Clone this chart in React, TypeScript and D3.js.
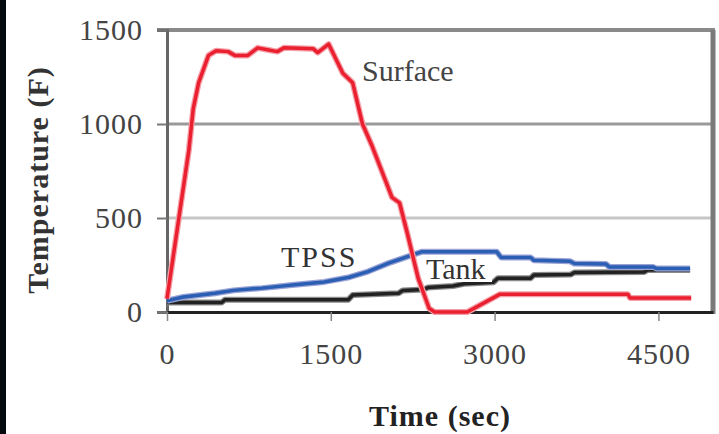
import React, { useEffect, useRef } from 'react';
import { select, scaleLinear, line, axisLeft, axisBottom } from 'd3';

// [time (sec), temperature (F)]
const surface: [number, number][] = [
  [0, 70], [200, 860], [240, 1080], [290, 1220], [380, 1365], [450, 1390],
  [560, 1385], [620, 1365], [740, 1365], [830, 1405], [920, 1395], [1010, 1385],
  [1070, 1405], [1340, 1400], [1380, 1380], [1480, 1425], [1610, 1270],
  [1700, 1220], [1790, 1000], [1880, 880], [2000, 700], [2060, 610],
  [2130, 580], [2200, 420], [2300, 180], [2400, 20], [2450, 0], [2750, 0],
  [3050, 95], [4220, 95], [4240, 75], [4800, 75],
];

const tpss: [number, number][] = [
  [0, 60], [150, 80], [440, 100], [610, 115], [870, 127], [1170, 145],
  [1440, 160], [1670, 185], [1840, 215], [2030, 260], [2230, 300], [2330, 320],
  [3020, 320], [3060, 290], [3330, 290], [3360, 275], [3690, 270], [3730, 258],
  [4020, 255], [4050, 240], [4450, 240], [4480, 232], [4790, 232],
];

const tank: [number, number][] = [
  [0, 50], [500, 50], [530, 65], [1660, 65], [1700, 90], [2120, 100],
  [2160, 115], [2350, 120], [2390, 130], [2620, 138], [2720, 150], [2990, 158],
  [3030, 180], [3330, 180], [3360, 197], [3700, 200], [3730, 210], [4370, 213],
  [4400, 223], [4790, 223],
];

const xTicks = [0, 1500, 3000, 4500];
const yTicks = [0, 500, 1000, 1500];

export default function App() {
  const svgRef = useRef<SVGSVGElement>(null);

  useEffect(() => {
    const svg = select(svgRef.current);
    svg.selectAll('*').remove();

    const width = 719;
    const height = 434;
    const left = 167, right = 713, top = 30, bottom = 312;

    const x = scaleLinear().domain([0, 5000]).range([left, right]);
    const y = scaleLinear().domain([0, 1500]).range([bottom, top]);

    svg.attr('width', width).attr('height', height);
    svg.append('rect').attr('width', width).attr('height', height).attr('fill', '#fff');
    svg.append('rect').attr('width', 6).attr('height', height).attr('fill', '#050a10');

    // grid
    svg.selectAll('.grid')
      .data([500, 1000])
      .join('line')
      .attr('class', 'grid')
      .attr('x1', left).attr('x2', right)
      .attr('y1', d => y(d)).attr('y2', d => y(d))
      .attr('stroke', d => (d === 1000 ? '#9a9a9a' : '#c6c6c6'))
      .attr('stroke-width', 3);

    // frame
    svg.append('line')
      .attr('x1', left - 10).attr('x2', right + 2)
      .attr('y1', y(1500)).attr('y2', y(1500))
      .attr('stroke', '#8a8a8a').attr('stroke-width', 4);
    svg.append('line')
      .attr('x1', right).attr('x2', right)
      .attr('y1', top).attr('y2', bottom + 2)
      .attr('stroke', '#7a7a7a').attr('stroke-width', 5);

    const serif = '"Liberation Serif", "Times New Roman", serif';

    const yAxis = svg.append('g')
      .attr('transform', `translate(${left},0)`)
      .call(axisLeft(y).tickValues(yTicks).tickSize(10).tickPadding(14).tickFormat(d => String(d)));
    yAxis.select('.domain').attr('stroke', '#666').attr('stroke-width', 3);
    yAxis.selectAll('.tick line').attr('stroke', '#777').attr('stroke-width', 2);
    yAxis.selectAll('.tick text')
      .attr('font-family', serif).attr('font-size', 30).attr('fill', '#444')
      .attr('letter-spacing', 1);

    const xAxis = svg.append('g')
      .attr('transform', `translate(0,${bottom})`)
      .call(axisBottom(x).tickValues(xTicks).tickSize(9).tickSizeOuter(0).tickPadding(22).tickFormat(d => String(d)));
    xAxis.select('.domain').attr('stroke', '#222').attr('stroke-width', 3);
    xAxis.selectAll('.tick line').attr('stroke', '#888').attr('stroke-width', 1.5);
    xAxis.selectAll('.tick text')
      .attr('font-family', serif).attr('font-size', 30).attr('fill', '#444')
      .attr('letter-spacing', 1);

    const path = line<[number, number]>()
      .x(d => x(d[0]))
      .y(d => y(d[1]));

    const series = [
      { data: tank, color: '#222', halo: '#8a8a8a' },
      { data: tpss, color: '#2a5fb4', halo: '#9aa2d6' },
      { data: surface, color: '#ea2030', halo: '#f4a0a8' },
    ];

    series.forEach(s => {
      svg.append('path')
        .attr('d', path(s.data))
        .attr('fill', 'none')
        .attr('stroke', s.halo)
        .attr('stroke-width', 6)
        .attr('stroke-linejoin', 'round');
      svg.append('path')
        .attr('d', path(s.data))
        .attr('fill', 'none')
        .attr('stroke', s.color)
        .attr('stroke-width', 3.5)
        .attr('stroke-linejoin', 'round');
    });

    // labels
    svg.append('text')
      .attr('x', 362).attr('y', 81)
      .attr('font-family', serif).attr('font-size', 30).attr('fill', '#444')
      .text('Surface');

    svg.append('text')
      .attr('x', 281).attr('y', 267)
      .attr('font-family', serif).attr('font-size', 30).attr('fill', '#333')
      .attr('letter-spacing', 2)
      .text('TPSS');

    svg.append('rect')
      .attr('x', 424).attr('y', 258).attr('width', 68).attr('height', 24)
      .attr('fill', '#fff');
    svg.append('text')
      .attr('x', 426).attr('y', 279)
      .attr('font-family', serif).attr('font-size', 30).attr('fill', '#333')
      .text('Tank');

    svg.append('text')
      .attr('x', 440).attr('y', 426)
      .attr('text-anchor', 'middle')
      .attr('font-family', serif).attr('font-size', 30).attr('font-weight', 'bold')
      .attr('fill', '#222').attr('letter-spacing', 1)
      .text('Time (sec)');

    svg.append('text')
      .attr('transform', 'translate(48,180) rotate(-90)')
      .attr('text-anchor', 'middle')
      .attr('font-family', serif).attr('font-size', 30).attr('font-weight', 'bold')
      .attr('fill', '#333').attr('letter-spacing', 1)
      .text('Temperature (F)');
  }, []);

  return (
    <div style={{ position: 'fixed', top: 0, left: 0 }}>
      <svg ref={svgRef}></svg>
    </div>
  );
}
